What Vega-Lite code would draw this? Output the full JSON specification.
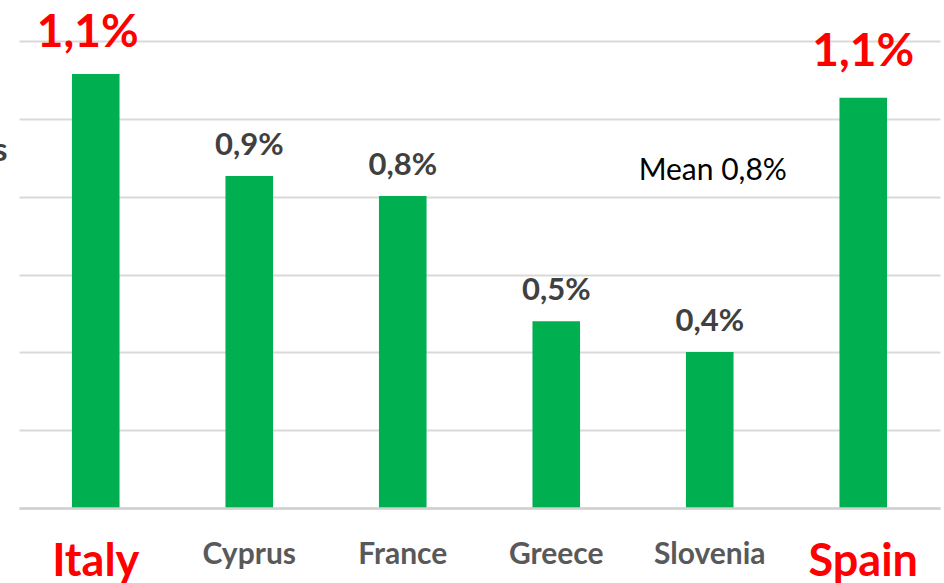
{
  "$schema": "https://vega.github.io/schema/vega-lite/v6.json",
  "width": 921,
  "height": 467,
  "autosize": "none",
  "padding": {"left": 19, "top": 41, "right": 4, "bottom": 75},
  "background": "white",
  "config": {"view": {"stroke": null}, "font": "Lato"},
  "datasets": {
    "bars": [
      {"country": "Italy", "value": 1.115, "label": "1,1%", "highlight": true},
      {"country": "Cyprus", "value": 0.853, "label": "0,9%", "highlight": false},
      {"country": "France", "value": 0.802, "label": "0,8%", "highlight": false},
      {"country": "Greece", "value": 0.48, "label": "0,5%", "highlight": false},
      {"country": "Slovenia", "value": 0.401, "label": "0,4%", "highlight": false},
      {"country": "Spain", "value": 1.054, "label": "1,1%", "highlight": true}
    ],
    "notes": [
      {"country": "Slovenia", "value": 0.843, "text": "Mean 0,8%"}
    ]
  },
  "encoding": {
    "x": {
      "field": "country",
      "type": "nominal",
      "sort": null,
      "scale": {"domain": ["Italy", "Cyprus", "France", "Greece", "Slovenia", "Spain"], "paddingInner": 0, "paddingOuter": 0},
      "axis": {
        "title": null,
        "labelAngle": 0,
        "ticks": false,
        "tickSize": 0,
        "labelPadding": 31,
        "labelBaseline": "top",
        "labelFont": "Lato",
        "labelFontWeight": "bold",
        "labelFontSize": {"condition": {"test": "datum.value === 'Italy' || datum.value === 'Spain'", "value": 45}, "value": 30},
        "labelColor": {"condition": {"test": "datum.value === 'Italy' || datum.value === 'Spain'", "value": "#ff0000"}, "value": "#595959"},
        "domainColor": "#d0d0d0",
        "domainWidth": 2.5,
        "grid": false,
        "zindex": 1
      }
    },
    "y": {
      "field": "value",
      "type": "quantitative",
      "scale": {"domain": [0, 1.2], "nice": false},
      "axis": {
        "title": "s",
        "titleAngle": 0,
        "titleX": -12,
        "titleY": 119,
        "titleAlign": "right",
        "titleBaseline": "alphabetic",
        "titleFont": "Lato",
        "titleFontSize": 33,
        "titleFontWeight": "bold",
        "titleColor": "#404040",
        "values": [0, 0.2, 0.4, 0.6, 0.8, 1.0, 1.2],
        "labels": false,
        "ticks": false,
        "domain": false,
        "grid": true,
        "gridColor": "#d9d9d9",
        "gridWidth": 2
      }
    }
  },
  "layer": [
    {
      "data": {"name": "bars"},
      "mark": {"type": "bar", "color": "#00b050", "width": {"band": 0.31}}
    },
    {
      "data": {"name": "bars"},
      "transform": [{"filter": "!datum.highlight"}],
      "mark": {"type": "text", "font": "Lato", "fontWeight": "bold", "fontSize": 31, "color": "#404040", "baseline": "alphabetic", "dy": -21},
      "encoding": {"text": {"field": "label"}}
    },
    {
      "data": {"name": "bars"},
      "transform": [{"filter": "datum.country === 'Italy'"}],
      "mark": {"type": "text", "font": "Lato", "fontWeight": "bold", "fontSize": 46, "color": "#ff0000", "baseline": "alphabetic", "dy": -27, "dx": -8},
      "encoding": {"text": {"field": "label"}}
    },
    {
      "data": {"name": "bars"},
      "transform": [{"filter": "datum.country === 'Spain'"}],
      "mark": {"type": "text", "font": "Lato", "fontWeight": "bold", "fontSize": 46, "color": "#ff0000", "baseline": "alphabetic", "dy": -32},
      "encoding": {"text": {"field": "label"}}
    },
    {
      "data": {"name": "notes"},
      "mark": {"type": "text", "font": "Lato", "fontSize": 30, "color": "#000000", "baseline": "alphabetic", "dx": 3},
      "encoding": {"text": {"field": "text"}}
    }
  ]
}
